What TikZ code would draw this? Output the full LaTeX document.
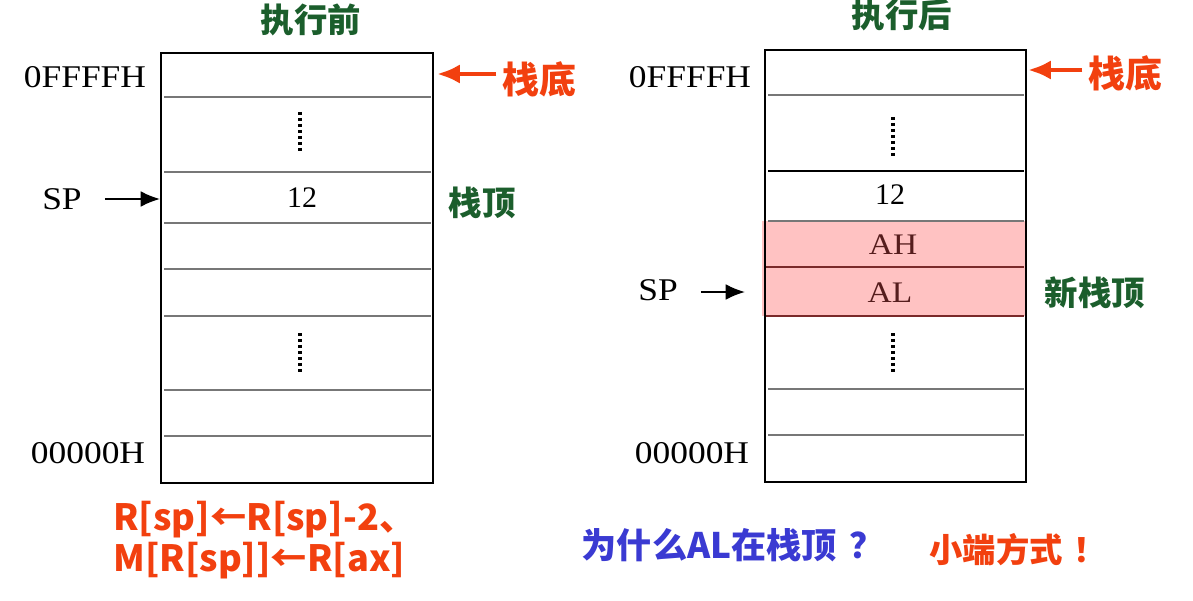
\documentclass[tikz,border=0pt]{standalone}
\usepackage{fontspec}
\setmainfont{Liberation Serif}
\newfontfamily\cjk{Noto Sans CJK SC}
\usetikzlibrary{positioning,arrows.meta}
\definecolor{Tomato}{HTML}{F2400F}
\definecolor{Forest}{HTML}{1B5E2C}
\definecolor{Indigo}{HTML}{3A3AD2}
\definecolor{Blush}{HTML}{FFC2C2}
\definecolor{Rule}{HTML}{777777}
\definecolor{Maroon}{HTML}{7A2A2A}
\newcommand{\wide}[1]{\scalebox{1.12}[1]{#1}}
\tikzset{
  addr/.style={font=\fontsize{18}{18}\selectfont, inner sep=0pt},
  cell/.style={font=\fontsize{17}{17}\selectfont, inner sep=0pt},
  tag/.style={font=\cjk\bfseries\fontsize{19}{19}\selectfont, inner sep=0pt},
  bigtag/.style={font=\cjk\bfseries\fontsize{21}{21}\selectfont, inner sep=0pt},
  divider/.style={Rule, line width=1.2pt},
  frame/.style={line width=1.3pt},
  vdots/.style={line width=1.8pt, dash pattern=on 1.7pt off 1.7pt},
  spArrow/.style={-{Latex[length=11pt,width=9pt]}, line width=1.1pt, shorten <=13pt},
  botArrow/.style={-{Latex[length=13pt,width=11pt]}, Tomato, line width=2.8pt, shorten <=3pt},
}

\begin{document}
\begin{tikzpicture}[x=0.02cm,y=-0.02cm]
  \useasboundingbox (0,0) rectangle (1193,601);

  % stack before push
  \node[tag,Forest] (tBefore) at (311,20) {执行前};
  \foreach \y in {97,172,223,269,316,390,436}{\draw[divider] (164,\y)--(431,\y);}
  \draw[frame] (161,53) rectangle (433,483);
  \draw[vdots] (300,112)--(300,152);
  \draw[vdots] (300,333)--(300,373);
  \node[cell] (cTwelveL) at (302,198) {12};
  \node[addr] (hiL) at (85,77) {\wide{0FFFFH}};
  \node[addr] (loL) at (88,453) {\wide{00000H}};
  \node[addr] (spL) at (62,199) {\wide{SP}};
  \coordinate (spInL) at (160,199);
  \draw[spArrow] (spL.east) -- (spInL);
  \node[bigtag,Tomato] (botL) at (539,79) {栈底};
  \coordinate (botInL) at (437,74);
  \draw[botArrow] (botInL -| botL.west) -- (botInL);
  \node[tag,Forest] (topL) at (482,203) {栈顶};

  % stack after push
  \node[tag,Forest] (tAfter) at (902,15) {执行后};
  \fill[Blush] (762,221) rectangle (1026,316);
  \foreach \y in {95,221,389,435}{\draw[divider] (768,\y)--(1024,\y);}
  \draw[frame] (768,171)--(1024,171);
  \foreach \y in {267,316}{\draw[Maroon,line width=1.2pt] (766,\y)--(1024,\y);}
  \draw[frame] (765,50) rectangle (1026,482);
  \draw[vdots] (893,117)--(893,157);
  \draw[vdots] (893,333)--(893,372);
  \node[cell] (cTwelveR) at (890,195) {12};
  \node[cell,Maroon!70!black] (cAH) at (893,245) {\wide{AH}};
  \node[cell,Maroon!70!black] (cAL) at (890,293) {\wide{AL}};
  \node[addr] (hiR) at (690,77) {\wide{0FFFFH}};
  \node[addr] (loR) at (692,453) {\wide{00000H}};
  \node[addr] (spR) at (658,290) {\wide{SP}};
  \coordinate (spInR) at (745,292);
  \draw[spArrow] (spInR -| spR.east) -- (spInR);
  \node[bigtag,Tomato] (botR) at (1125,73) {栈底};
  \coordinate (botInR) at (1028,70);
  \draw[botArrow] (botInR -| botR.west) -- (botInR);
  \node[tag,Forest] (topR) at (1095,293) {新栈顶};

  % notes
  \node[font=\cjk\bfseries\fontsize{20.6}{23}\selectfont, Tomato, align=left, anchor=north west, inner sep=0pt]
    (rtl) at (113,501) {R[sp]←R[sp]-2、\\M[R[sp]]←R[ax]};
  \node[font=\cjk\bfseries\fontsize{20}{20}\selectfont, Indigo, inner sep=0pt] (why) at (733,545) {为什么AL在栈顶\hspace{0.35em}？};
  \node[font=\cjk\bfseries\fontsize{19}{19}\selectfont, Tomato, inner sep=0pt] (little) at (1018,550) {小端方式\hspace{0.3em}！};
\end{tikzpicture}
\end{document}
